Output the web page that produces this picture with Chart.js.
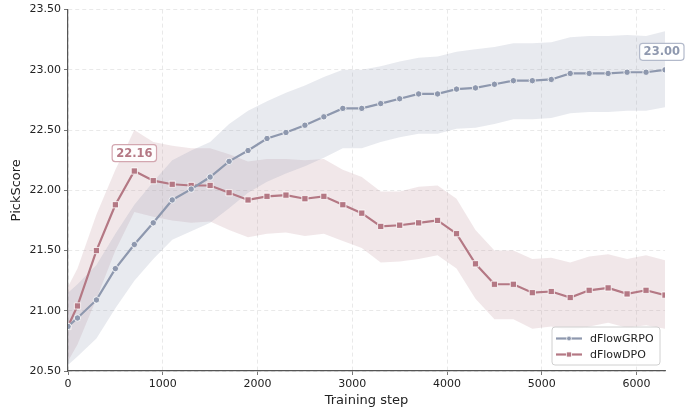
<!DOCTYPE html>
<html>
<head>
<meta charset="utf-8">
<script src="https://cdn.jsdelivr.net/npm/chart.js@4.4.1/dist/chart.umd.min.js"></script>
<style>
  html, body { margin: 0; padding: 0; background: #fff; }
  #wrap { width: 685px; height: 412px; }
</style>
</head>
<body>
<div id="wrap"><canvas id="chart" width="685" height="412"></canvas></div>
<script>
// training steps (x)
const steps = [0, 100, 300, 500, 700, 900, 1100, 1300, 1500, 1700, 1900, 2100, 2300, 2500, 2700, 2900, 3100,
    3300, 3500, 3700, 3900, 4100, 4300, 4500, 4700, 4900, 5100, 5300, 5500, 5700, 5900, 6100, 6300];

// dFlowGRPO mean and band
const grpoMean = [20.87, 20.94, 21.09, 21.35, 21.55, 21.73, 21.92, 22.01, 22.11, 22.24, 22.33, 22.43, 22.48, 22.54, 22.61, 22.68, 22.68,
    22.72, 22.76, 22.80, 22.80, 22.84, 22.85, 22.88, 22.91, 22.91, 22.92, 22.97, 22.97, 22.97, 22.98, 22.98, 23.00];
const grpoUpper = [21.15, 21.22, 21.38, 21.64, 21.88, 22.07, 22.25, 22.33, 22.40, 22.55, 22.66, 22.74, 22.81, 22.87, 22.94, 23.00, 23.00,
    23.03, 23.07, 23.10, 23.11, 23.15, 23.17, 23.19, 23.22, 23.22, 23.23, 23.27, 23.28, 23.28, 23.29, 23.28, 23.32];
const grpoLower = [20.55, 20.62, 20.77, 21.02, 21.25, 21.43, 21.59, 21.66, 21.73, 21.85, 21.98, 22.07, 22.14, 22.20, 22.27, 22.35, 22.35,
    22.40, 22.44, 22.47, 22.47, 22.51, 22.52, 22.55, 22.59, 22.59, 22.60, 22.64, 22.65, 22.65, 22.66, 22.66, 22.69];

// dFlowDPO mean and band
const dpoMean = [20.87, 21.04, 21.50, 21.88, 22.16, 22.08, 22.05, 22.04, 22.04, 21.98, 21.92, 21.95, 21.96, 21.93, 21.95, 21.88, 21.81,
    21.70, 21.71, 21.73, 21.75, 21.64, 21.39, 21.22, 21.22, 21.15, 21.16, 21.11, 21.17, 21.19, 21.14, 21.17, 21.13];
const dpoUpper = [21.20, 21.35, 21.80, 22.17, 22.50, 22.40, 22.37, 22.35, 22.35, 22.30, 22.24, 22.26, 22.26, 22.25, 22.26, 22.17, 22.11,
    21.99, 21.99, 22.03, 22.04, 21.93, 21.67, 21.50, 21.50, 21.43, 21.44, 21.40, 21.45, 21.47, 21.43, 21.46, 21.42];
const dpoLower = [20.58, 20.72, 21.10, 21.50, 21.82, 21.78, 21.75, 21.73, 21.74, 21.67, 21.61, 21.64, 21.65, 21.62, 21.64, 21.58, 21.52,
    21.40, 21.41, 21.43, 21.46, 21.35, 21.10, 20.93, 20.93, 20.85, 20.87, 20.83, 20.87, 20.90, 20.86, 20.88, 20.85];

// axis ranges and tick labels
const xRange = [0, 6300];
const yRange = [20.5, 23.5];
const xTicks = [0, 1000, 2000, 3000, 4000, 5000, 6000];
const yTicks = [20.5, 21.0, 21.5, 22.0, 22.5, 23.0, 23.5];

const GREY = '#8e98ae';
const RED = '#b47884';
const FONT = "'DejaVu Sans', sans-serif";

const pts = (ys) => steps.map((s, i) => ({ x: s, y: ys[i] }));

// boxed value labels: peak of dFlowDPO, last of dFlowGRPO
const peakIdx = dpoMean.indexOf(Math.max(...dpoMean));
const lastIdx = grpoMean.length - 1;
const callouts = [
    { ds: 1, idx: peakIdx, color: RED, border: '#d3a7b0' },
    { ds: 0, idx: lastIdx, color: GREY, border: '#b3bacb' }
];

const calloutPlugin = {
    id: 'callouts',
    afterDatasetsDraw(chart) {
        const ctx = chart.ctx;
        ctx.save();
        ctx.font = "bold 11.5px " + FONT;
        callouts.forEach(c => {
            const p = chart.getDatasetMeta(c.ds).data[c.idx];
            const val = chart.data.datasets[c.ds].data[c.idx].y;
            const text = val.toFixed(2);
            const w = ctx.measureText(text).width + 8;
            const h = 17;
            let cx = Math.min(p.x, chart.width - w / 2 - 1);
            const cy = p.y - 18;
            ctx.beginPath();
            ctx.roundRect(cx - w / 2, cy - h / 2, w, h, 3);
            ctx.fillStyle = 'rgba(255,255,255,0.9)';
            ctx.fill();
            ctx.lineWidth = 1.2;
            ctx.strokeStyle = c.border;
            ctx.stroke();
            ctx.fillStyle = c.color;
            ctx.textAlign = 'center';
            ctx.textBaseline = 'middle';
            ctx.fillText(text, cx, cy + 0.5);
        });
        ctx.restore();
    }
};

// legend box in the lower right of the plot
const legendPlugin = {
    id: 'boxLegend',
    afterDraw(chart) {
        const ctx = chart.ctx;
        const area = chart.chartArea;
        const x0 = area.right - 113, y0 = area.bottom - 44, w = 108, h = 38;
        ctx.save();
        ctx.beginPath();
        ctx.roundRect(x0, y0, w, h, 3);
        ctx.fillStyle = 'rgba(255,255,255,0.85)';
        ctx.fill();
        ctx.strokeStyle = '#d0d0d0';
        ctx.lineWidth = 1;
        ctx.stroke();
        [0, 1].forEach((di, row) => {
            const ds = chart.data.datasets[di];
            const y = y0 + 11.5 + row * 16;
            ctx.beginPath();
            ctx.moveTo(x0 + 4, y);
            ctx.lineTo(x0 + 30, y);
            ctx.strokeStyle = ds.borderColor;
            ctx.lineWidth = 2.2;
            ctx.stroke();
            ctx.fillStyle = ds.borderColor;
            ctx.strokeStyle = '#fff';
            ctx.lineWidth = 0.8;
            Chart.helpers.drawPoint(ctx, {
                pointStyle: ds.pointStyle, radius: ds.pointRadius - 0.8, borderWidth: 0.8, rotation: 0
            }, x0 + 17, y);
            ctx.fillStyle = '#222';
            ctx.font = "11px " + FONT;
            ctx.textAlign = 'left';
            ctx.textBaseline = 'middle';
            ctx.fillText(ds.label, x0 + 38, y + 0.5);
        });
        ctx.restore();
    }
};

const gridOpts = { color: '#e3e3e3', lineWidth: 0.8, tickLength: 4, tickColor: '#555', tickBorderDash: [] };
const borderOpts = { display: true, color: '#555', width: 1.2, dash: [4, 3] };

new Chart(document.getElementById('chart'), {
    type: 'line',
    data: {
        datasets: [
            {
                label: 'dFlowGRPO', data: pts(grpoMean), borderColor: GREY, backgroundColor: GREY,
                borderWidth: 2.2, pointStyle: 'circle', pointRadius: 3.2, pointBorderColor: '#fff',
                pointBorderWidth: 0.8, fill: false, tension: 0
            },
            {
                label: 'dFlowDPO', data: pts(dpoMean), borderColor: RED, backgroundColor: RED,
                borderWidth: 2.2, pointStyle: 'rect', pointRadius: 4.4, pointBorderColor: '#fff',
                pointBorderWidth: 0.8, fill: false, tension: 0
            },
            { label: 'grpoLower', data: pts(grpoLower), borderWidth: 0, pointRadius: 0, fill: false },
            { label: 'grpoUpper', data: pts(grpoUpper), borderWidth: 0, pointRadius: 0,
              fill: { target: 2 }, backgroundColor: 'rgba(142,152,174,0.2)' },
            { label: 'dpoLower', data: pts(dpoLower), borderWidth: 0, pointRadius: 0, fill: false },
            { label: 'dpoUpper', data: pts(dpoUpper), borderWidth: 0, pointRadius: 0,
              fill: { target: 4 }, backgroundColor: 'rgba(180,120,132,0.18)' }
        ]
    },
    options: {
        responsive: false,
        animation: false,
        layout: { padding: { top: 9, right: 20, left: 0, bottom: 0 } },
        plugins: {
            legend: { display: false },
            tooltip: { enabled: false }
        },
        scales: {
            x: {
                type: 'linear', min: xRange[0], max: xRange[1],
                afterFit: (s) => { s.height = 41; },
                afterBuildTicks: (s) => { s.ticks = xTicks.map(v => ({ value: v })); },
                ticks: {
                    padding: 3, color: '#222', font: { family: FONT, size: 11 },
                    callback: (v) => String(v)
                },
                grid: gridOpts,
                border: borderOpts,
                title: { display: true, text: 'Training step', color: '#222',
                    font: { family: FONT, size: 13 }, padding: { top: 0, bottom: 4 } }
            },
            y: {
                min: yRange[0], max: yRange[1],
                afterFit: (s) => { s.width = 68; },
                afterBuildTicks: (s) => { s.ticks = yTicks.map(v => ({ value: v })); },
                ticks: {
                    padding: 3, color: '#222', font: { family: FONT, size: 11 },
                    callback: (v) => v.toFixed(2)
                },
                grid: gridOpts,
                border: borderOpts,
                title: { display: true, text: 'PickScore', color: '#222',
                    font: { family: FONT, size: 13 }, padding: { top: 9, bottom: 0 } }
            }
        }
    },
    plugins: [calloutPlugin, legendPlugin]
});
</script>
</body>
</html>
